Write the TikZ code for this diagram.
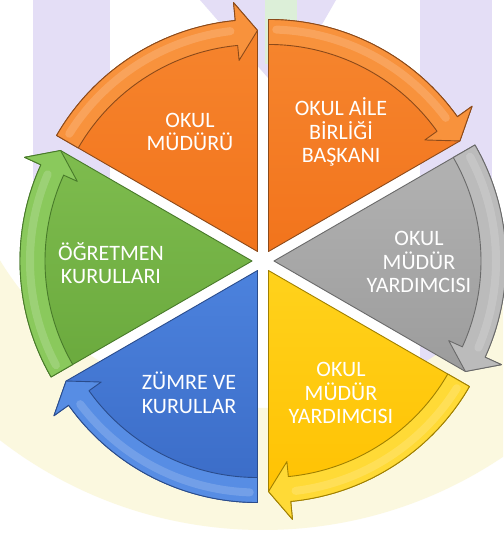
\documentclass[tikz,border=0pt]{standalone}
\usepackage{fontspec}
\setmainfont{Carlito}
\definecolor{lav}{HTML}{E4DEF6}
\definecolor{cream}{HTML}{FBF8DF}
\definecolor{lgreen}{HTML}{DCEFD8}
\definecolor{orT}{HTML}{F6862F}
\definecolor{orB}{HTML}{F2741C}
\definecolor{orBand}{HTML}{F8923C}
\definecolor{orLine}{HTML}{8C4A1A}
\definecolor{grT}{HTML}{B3B3B3}
\definecolor{grB}{HTML}{9C9C9C}
\definecolor{grBand}{HTML}{BBBBBB}
\definecolor{grLine}{HTML}{6A6A6A}
\definecolor{yeT}{HTML}{FFD21C}
\definecolor{yeB}{HTML}{FFC000}
\definecolor{yeBand}{HTML}{FFDA36}
\definecolor{yeLine}{HTML}{A08000}
\definecolor{blT}{HTML}{4C82DD}
\definecolor{blB}{HTML}{3A6BC6}
\definecolor{blBand}{HTML}{578DE4}
\definecolor{blLine}{HTML}{2A4C8C}
\definecolor{gnT}{HTML}{7EBC4E}
\definecolor{gnB}{HTML}{6AA93D}
\definecolor{gnBand}{HTML}{8AC95C}
\definecolor{gnLine}{HTML}{487A2A}
\newcommand\segwedge[5]{%
\pgfmathsetmacro\wlo{#1}%
\pgfmathsetmacro\whi{#1+60}%
\pgfmathsetmacro\wmid{#1+30}%
\pgfmathsetmacro\wbk{#1+5.5}%
\pgfmathsetmacro\whl{#1+58}%
\pgfmathsetmacro\wbh{#1+7}%
\begin{scope}[shift={(\wmid:11)}]
\path[wedgeline, draw=#5, top color=#2, bottom color=#3]
 (0,0) -- (\whi:232) arc[start angle=\whi, end angle=\wbk, radius=232]
 -- (\wbk:250) -- (\wlo:221) -- cycle;
\path[wedgeline, draw=#5, fill=#4]
 (\whi:232) arc[start angle=\whi, end angle=\wbk, radius=232]
 -- (\wbk:250) -- (\wlo:221) -- (\wbk:192) -- (\wbk:207)
 arc[start angle=\wbk, end angle=\whi, radius=207] -- cycle;
\draw[white, opacity=0.16, line width=8pt, line cap=round]
 (\whl:222) arc[start angle=\whl, end angle=\wbh, radius=222];
\end{scope}}
\begin{document}
\begin{tikzpicture}[x=1pt,y=1pt,
  wedgeline/.style={line width=0.9pt, line join=round},
  lbl/.style={text=white, font=\fontsize{22}{23.5}\selectfont, align=center, inner sep=0pt}]
\useasboundingbox (0,0) rectangle (503,534);
\fill[white] (0,0) rectangle (503,534);
% watermark background
\fill[lav] (33,534) rectangle (110,250);
\fill[lav] (420,534) rectangle (492,150);
\fill[lav] (200,534) -- (336,534) -- (282,440) -- cycle;
\fill[lgreen] (265,534) rectangle (297,470);
\begin{scope}
\clip (0,0) rectangle (503,534);
\fill[cream, even odd rule] (263,434) circle (430) (263,434) circle (308);
\end{scope}
% segments
\coordinate (C) at (263,273);
\begin{scope}[shift={(C)}]
\segwedge{90}{orT}{orB}{orBand}{orLine}
\segwedge{30}{orT}{orB}{orBand}{orLine}
\segwedge{-30}{grT}{grB}{grBand}{grLine}
\segwedge{-90}{yeT}{yeB}{yeBand}{yeLine}
\segwedge{-150}{blT}{blB}{blBand}{blLine}
\segwedge{150}{gnT}{gnB}{gnBand}{gnLine}
\end{scope}
\fill[white] (C) circle (4);
% labels
\node[lbl] (t1) at (190,402) {OKUL\\MÜDÜRÜ};
\node[lbl] (t2) at (341,402) {OKUL AİLE\\BİRLİĞİ\\BAŞKANI};
\node[lbl] (t3) at (419,272) {OKUL\\MÜDÜR\\YARDIMCISI};
\node[lbl] (t4) at (341,141) {OKUL\\MÜDÜR\\YARDIMCISI};
\node[lbl] (t5) at (189,141) {ZÜMRE VE\\KURULLAR};
\node[lbl] (t6) at (111,271) {ÖĞRETMEN\\KURULLARI};
\end{tikzpicture}
\end{document}
